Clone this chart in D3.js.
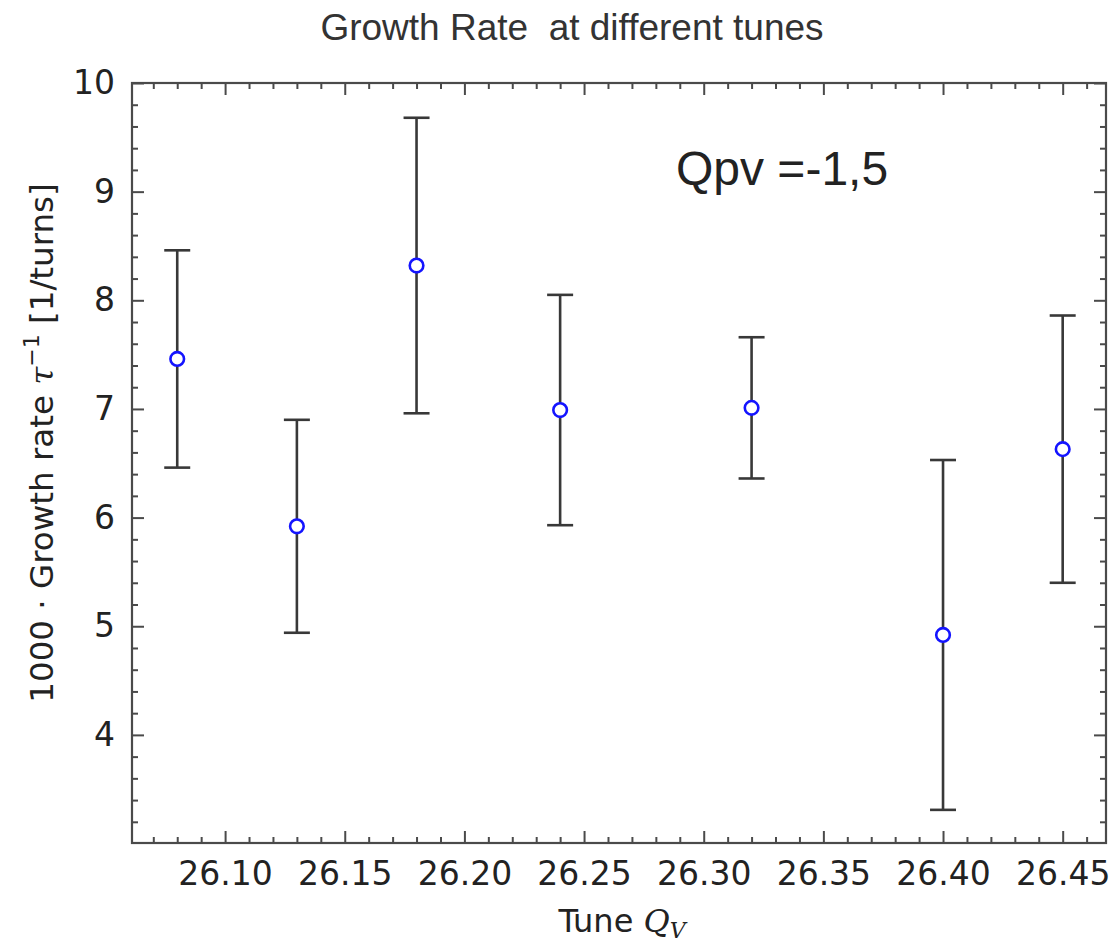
<!DOCTYPE html>
<html>
<head>
<meta charset="utf-8">
<script src="https://cdn.jsdelivr.net/npm/d3@7"></script>
<style>
  body { margin: 0; background: #fff; }
  svg { display: block; }
</style>
</head>
<body>
<div id="chart"></div>
<script>

// tunes and measured growth rates (x1000), symmetric errors
var tunes = [26.08, 26.13, 26.18, 26.24, 26.32, 26.40, 26.45];
var rates = [7.46, 5.92, 8.32, 6.99, 7.01, 4.92, 6.63];
var errs  = [1.00, 0.98, 1.36, 1.06, 0.65, 1.61, 1.23];

var xTicks = [26.10, 26.15, 26.20, 26.25, 26.30, 26.35, 26.40, 26.45];
var yTicks = [4, 5, 6, 7, 8, 9, 10];

var W = 1111, H = 943;
var margin = {top: 83, right: 5, bottom: 100, left: 132};
var width = W - margin.left - margin.right,
    height = H - margin.top - margin.bottom;

var svg = d3.select("#chart")
  .append("svg")
  .attr("width", W)
  .attr("height", H);

var g = svg.append("g")
  .attr("transform", "translate(" + margin.left + "," + margin.top + ")");

var x = d3.scaleLinear().domain([26.0611, 26.4681]).range([0, width]);
var y = d3.scaleLinear().domain([3.005, 10]).range([height, 0]);

var axisCol = "#4a4a4a";
var tickFont = "'DejaVu Sans', sans-serif";

function isMajor(list, v) {
  return list.some(t => Math.abs(t - v) < 1e-6);
}

// minor ticks
var xMinor = d3.range(26.07, 26.4681, 0.01).filter(v => !isMajor(xTicks, v));
var yMinor = d3.range(3.2, 10.0001, 0.2).filter(v => !isMajor(yTicks, v));

// bottom axis, ticks pointing inward
var xAxis = d3.axisBottom(x)
  .tickValues(xTicks.concat(xMinor))
  .tickSize(-12)
  .tickPadding(0)
  .tickFormat(d => isMajor(xTicks, d) ? d3.format(".2f")(d) : "");

var gx = g.append("g")
  .attr("transform", "translate(0," + height + ")")
  .call(xAxis);
gx.selectAll(".tick line")
  .attr("y2", d => isMajor(xTicks, d) ? -12 : -6);
gx.selectAll(".tick text")
  .attr("y", 42)
  .attr("dy", 0);

var gxTop = g.append("g").call(d3.axisTop(x).tickValues(xTicks.concat(xMinor)).tickFormat(""));
gxTop.selectAll(".tick line")
  .attr("y2", d => isMajor(xTicks, d) ? 12 : 6);

var yAxis = d3.axisLeft(y)
  .tickValues(yTicks.concat(yMinor))
  .tickPadding(11)
  .tickFormat(d => isMajor(yTicks, d) ? Math.round(d) : "");

var gy = g.append("g").call(yAxis);
gy.selectAll(".tick line")
  .attr("x2", d => isMajor(yTicks, d) ? 12 : 6);

var gyR = g.append("g")
  .attr("transform", "translate(" + width + ",0)")
  .call(d3.axisRight(y).tickValues(yTicks.concat(yMinor)).tickFormat(""));
gyR.selectAll(".tick line")
  .attr("x2", d => isMajor(yTicks, d) ? -12 : -6);

g.selectAll(".domain").remove();
g.selectAll(".tick line").attr("stroke", axisCol).attr("stroke-width", 2);
g.selectAll(".tick text")
  .attr("fill", "#222")
  .style("font-family", tickFont)
  .style("font-size", "33px");

// frame
g.append("rect")
  .attr("width", width)
  .attr("height", height)
  .attr("fill", "none")
  .attr("stroke", axisCol)
  .attr("stroke-width", 2.2);

// error bars
var data = tunes.map((t, i) => ({t: t, v: rates[i], e: errs[i]}));
var capW = 13;

var eb = g.selectAll(".eb")
  .data(data)
  .enter()
  .append("g")
  .attr("class", "eb")
  .attr("stroke", "#383838")
  .attr("stroke-width", 2.6);

eb.append("line")
  .attr("x1", d => x(d.t)).attr("x2", d => x(d.t))
  .attr("y1", d => y(d.v + d.e)).attr("y2", d => y(d.v - d.e));
eb.append("line")
  .attr("x1", d => x(d.t) - capW).attr("x2", d => x(d.t) + capW)
  .attr("y1", d => y(d.v + d.e)).attr("y2", d => y(d.v + d.e));
eb.append("line")
  .attr("x1", d => x(d.t) - capW).attr("x2", d => x(d.t) + capW)
  .attr("y1", d => y(d.v - d.e)).attr("y2", d => y(d.v - d.e));

g.selectAll(".pt")
  .data(data)
  .enter()
  .append("circle")
  .attr("class", "pt")
  .attr("cx", d => x(d.t))
  .attr("cy", d => y(d.v))
  .attr("r", 6.8)
  .attr("fill", "#fff")
  .attr("stroke", "#1414ff")
  .attr("stroke-width", 2.6);

// annotation
g.append("text")
  .attr("x", 676 - margin.left)
  .attr("y", 185 - margin.top)
  .attr("fill", "#222")
  .style("font-family", "'Liberation Sans', Arial, sans-serif")
  .style("font-size", "48px")
  .text("Qpv =-1,5");

// title
svg.append("text")
  .attr("x", 572)
  .attr("y", 40)
  .attr("text-anchor", "middle")
  .attr("fill", "#333")
  .style("font-family", "'Liberation Sans', Arial, sans-serif")
  .style("font-size", "37px")
  .style("white-space", "pre")
  .text("Growth Rate  at different tunes");

// x label
var xl = svg.append("text")
  .attr("x", 622)
  .attr("y", 932)
  .attr("text-anchor", "middle")
  .attr("fill", "#222")
  .style("font-family", tickFont)
  .style("font-size", "32px");
xl.append("tspan").text("Tune ");
xl.append("tspan")
  .style("font-family", "'DejaVu Serif', serif")
  .style("font-style", "italic")
  .text("Q");
xl.append("tspan")
  .attr("dy", 6)
  .style("font-family", "'DejaVu Serif', serif")
  .style("font-style", "italic")
  .style("font-size", "22px")
  .text("V");

// y label
var yl = svg.append("text")
  .attr("transform", "translate(53," + 443 + ") rotate(-90)")
  .attr("text-anchor", "middle")
  .attr("fill", "#222")
  .style("font-family", tickFont)
  .style("font-size", "32.5px");
yl.append("tspan").text("1000 \u00b7 Growth rate ");
yl.append("tspan")
  .style("font-family", "'DejaVu Serif', serif")
  .style("font-style", "italic")
  .text("\u03c4");
yl.append("tspan")
  .attr("dy", -14)
  .style("font-size", "22px")
  .text("\u22121");
yl.append("tspan")
  .attr("dy", 14)
  .text(" [1/turns]");

</script>
</body>
</html>
